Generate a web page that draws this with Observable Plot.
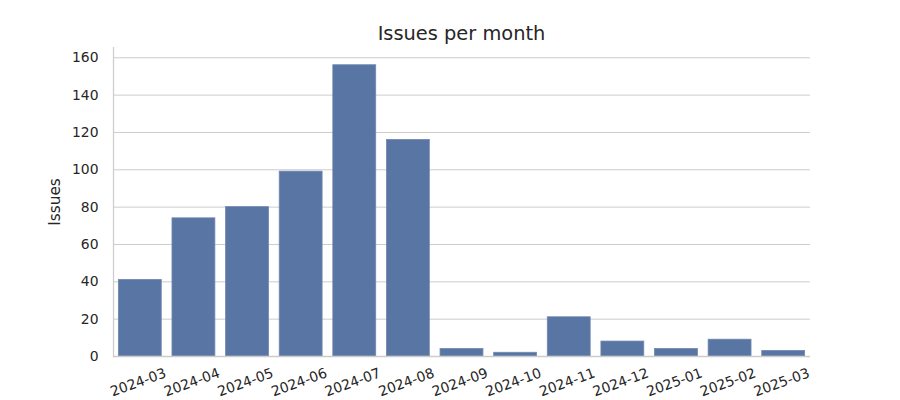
<!DOCTYPE html>
<html>
<head>
<meta charset="utf-8">
<script src="https://cdn.jsdelivr.net/npm/d3@7"></script>
<script src="https://cdn.jsdelivr.net/npm/@observablehq/plot@0.6"></script>
<style>
  html, body { margin: 0; padding: 0; background: white; }
  #title {
    box-sizing: border-box;
    height: 47px;
    margin-left: 113px;
    width: 697px;
    padding-top: 23px;
    line-height: 22px;
    text-align: center;
    font-family: "DejaVu Sans", sans-serif;
    font-size: 19.4px;
    color: #262626;
  }
</style>
</head>
<body>
<div id="title">Issues per month</div>
<div id="chart"></div>
<script>
const months = ["2024-03","2024-04","2024-05","2024-06","2024-07","2024-08","2024-09","2024-10","2024-11","2024-12","2025-01","2025-02","2025-03"];
const issues = [41, 74, 80, 99, 156, 116, 4, 2, 21, 8, 4, 9, 3];
const yTicks = [0, 20, 40, 60, 80, 100, 120, 140, 160];
const yLabel = "Issues";

const data = months.map((m, i) => ({month: m, issues: issues[i]}));

let frameMark;
try { frameMark = Plot.frame({anchor: "left", stroke: "#cccccc", strokeWidth: 1.25}); } catch (e) { frameMark = null; }

const chart = Plot.plot({
  width: 900,
  height: 353,
  marginLeft: 113,
  marginRight: 90,
  marginTop: 0,
  marginBottom: 44,
  style: {fontFamily: "DejaVu Sans, sans-serif", fontSize: "13.9px", color: "#262626", background: "white", overflow: "visible"},
  x: {domain: months, paddingInner: 0.2, paddingOuter: 0.1, round: false, label: null},
  y: {domain: [0, 165.5], label: null},
  marks: [
    Plot.gridY(yTicks, {stroke: "#cccccc", strokeOpacity: 1, strokeWidth: 1}),
    Plot.barY(data, {x: "month", y: "issues", fill: "#5975a4", stroke: "#7087b0", strokeWidth: 0.8}),
    Plot.ruleY([0], {stroke: "#cccccc", strokeWidth: 1.5}),
    frameMark,
    Plot.axisY(yTicks, {tickSize: 0, tickPadding: 15, fontSize: 13.9, label: null}),
    Plot.axisX({tickSize: 0, tickRotate: -20, textAnchor: "middle", lineAnchor: "middle", tickPadding: 26, dx: -2, fontSize: 13.9, label: null}),
    Plot.text([yLabel], {frameAnchor: "left", textAnchor: "middle", lineAnchor: "middle", rotate: -90, dx: -58, fontSize: 15.3, fill: "#262626"})
  ].filter(Boolean)
});
document.getElementById("chart").appendChild(chart);
</script>
</body>
</html>
